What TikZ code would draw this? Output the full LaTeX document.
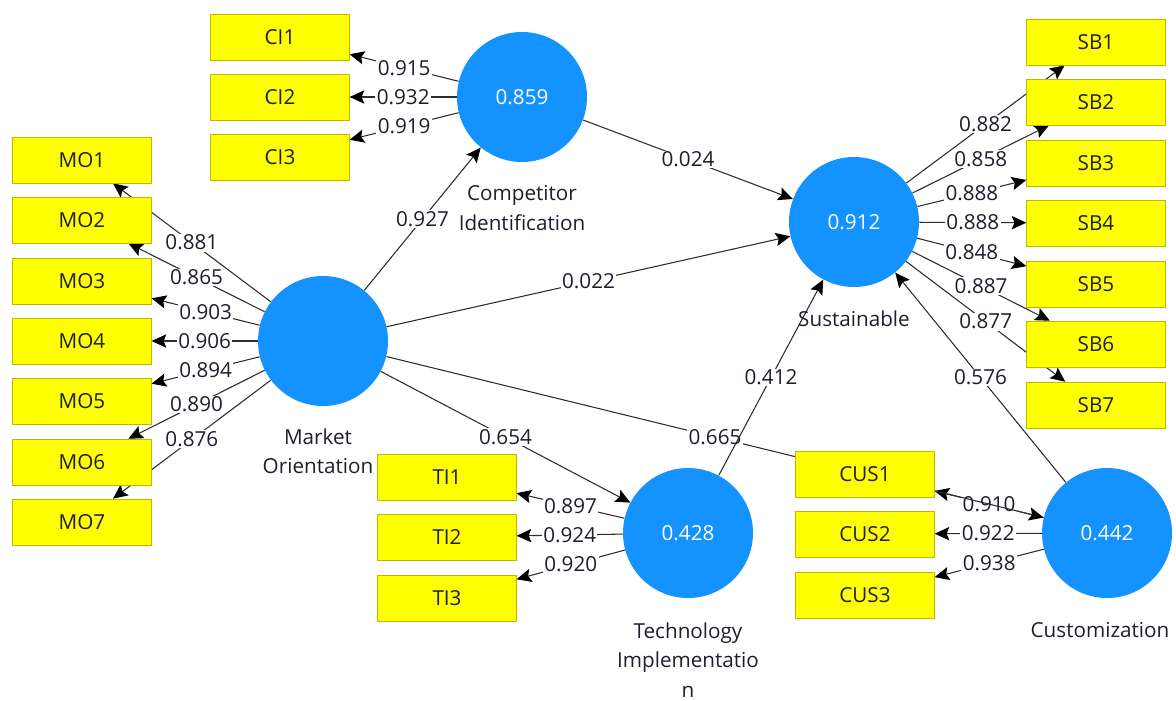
\documentclass[tikz,border=0pt]{standalone}
\usepackage{fontspec}
\setmainfont{Open Sans}
\usetikzlibrary{arrows.meta,backgrounds}
\definecolor{lvblue}{RGB}{20,146,255}
\definecolor{indyellow}{RGB}{255,255,0}
\definecolor{indborder}{RGB}{190,185,0}
\definecolor{linkgray}{RGB}{45,45,45}
\definecolor{textdark}{RGB}{30,30,45}
\tikzset{
  ind/.style={draw=indborder, fill=indyellow, minimum width=104pt, minimum height=34.5pt,
    inner sep=0pt, text=textdark, font=\fontsize{15.5}{18}\selectfont},
  lv/.style={circle, fill=lvblue, minimum size=97.5pt, inner sep=0pt, text=white,
    font=\fontsize{15.5}{18}\selectfont},
  lvname/.style={align=center, text=textdark, font=\fontsize{15.5}{22}\selectfont},
  link/.style={draw=linkgray, line width=0.8pt, -{Stealth[length=11pt,width=10pt,inset=2pt,color=black]}},
  coef/.style={fill=white, inner sep=1pt, text=textdark, font=\fontsize{15.5}{18}\selectfont}
}
\begin{document}
\begin{tikzpicture}[x=0.75pt,y=-0.75pt]
    \useasboundingbox (0,0) rectangle (1176,700);

    \node[lv] (mo) at (323,341) {};
    \node[lv] (ci) at (522,97) {0.859};
    \node[lv] (sb) at (854,222) {0.912};
    \node[lv] (ti) at (688,533) {0.428};
    \node[lv] (cus) at (1107,533) {0.442};

    \node[lvname] (moname) at (318,451) {Market\\Orientation};
    \node[lvname] (ciname) at (522,208) {Competitor\\Identification};
    \node[lvname] (sbname) at (854,319) {Sustainable};
    \node[lvname] (tiname) at (688,660) {Technology\\Implementatio\\n};
    \node[lvname] (cusname) at (1100,630) {Customization};

    \node[ind] (ci1) at (280,37) {CI1};
    \node[ind] (ci2) at (280,97) {CI2};
    \node[ind] (ci3) at (280,157) {CI3};

    \node[ind] (mo1) at (82,160) {MO1};
    \node[ind] (mo2) at (82,220) {MO2};
    \node[ind] (mo3) at (82,281) {MO3};
    \node[ind] (mo4) at (82,341) {MO4};
    \node[ind] (mo5) at (82,401) {MO5};
    \node[ind] (mo6) at (82,462) {MO6};
    \node[ind] (mo7) at (82,522) {MO7};

    \node[ind] (sb1) at (1096,42) {SB1};
    \node[ind] (sb2) at (1096,102) {SB2};
    \node[ind] (sb3) at (1096,163) {SB3};
    \node[ind] (sb4) at (1096,223) {SB4};
    \node[ind] (sb5) at (1096,284) {SB5};
    \node[ind] (sb6) at (1096,344) {SB6};
    \node[ind] (sb7) at (1096,405) {SB7};

    \node[ind] (ti1) at (447,477) {TI1};
    \node[ind] (ti2) at (447,537) {TI2};
    \node[ind] (ti3) at (447,598) {TI3};

    \node[ind] (cus1) at (865,474) {CUS1};
    \node[ind] (cus2) at (865,534) {CUS2};
    \node[ind] (cus3) at (865,595) {CUS3};

    \begin{scope}[on background layer]
        \draw[link] (ci) -- node[coef] {0.915} (ci1);
        \draw[link] (ci) -- node[coef] {0.932} (ci2);
        \draw[link] (ci) -- node[coef] {0.919} (ci3);

        \draw[link] (mo) -- node[coef] {0.881} (mo1);
        \draw[link] (mo) -- node[coef] {0.865} (mo2);
        \draw[link] (mo) -- node[coef] {0.903} (mo3);
        \draw[link] (mo) -- node[coef] {0.906} (mo4);
        \draw[link] (mo) -- node[coef] {0.894} (mo5);
        \draw[link] (mo) -- node[coef] {0.890} (mo6);
        \draw[link] (mo) -- node[coef] {0.876} (mo7);

        \draw[link] (sb) -- node[coef] {0.882} (sb1);
        \draw[link] (sb) -- node[coef] {0.858} (sb2);
        \draw[link] (sb) -- node[coef] {0.888} (sb3);
        \draw[link] (sb) -- node[coef] {0.888} (sb4);
        \draw[link] (sb) -- node[coef] {0.848} (sb5);
        \draw[link] (sb) -- node[coef] {0.887} (sb6);
        \draw[link] (sb) -- node[coef] {0.877} (sb7);

        \draw[link] (ti) -- node[coef] {0.897} (ti1);
        \draw[link] (ti) -- node[coef] {0.924} (ti2);
        \draw[link] (ti) -- node[coef] {0.920} (ti3);

        \draw[link] (cus) -- node[coef] {0.910} (cus1);
        \draw[link] (cus) -- node[coef] {0.922} (cus2);
        \draw[link] (cus) -- node[coef] {0.938} (cus3);

        \draw[link] (mo) -- node[coef] {0.927} (ci);
        \draw[link] (ci) -- node[coef] {0.024} (sb);
        \draw[link] (mo) -- node[coef] {0.022} (sb);
        \draw[link] (mo) -- node[coef] {0.654} (ti);
        \draw[link] (mo) -- node[coef] {0.665} (cus);
        \draw[link] (ti) -- node[coef] {0.412} (sb);
        \draw[link] (cus) -- node[coef] {0.576} (sb);
    \end{scope}
\end{tikzpicture}
\end{document}
